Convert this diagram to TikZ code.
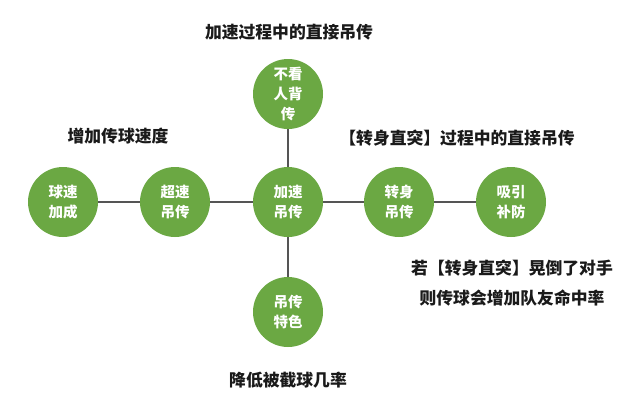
\documentclass[tikz,border=0pt]{standalone}
\usepackage{fontspec}
\setmainfont{Noto Sans CJK SC}
\definecolor{ballgreen}{HTML}{6BA843}
\definecolor{linegray}{HTML}{555555}
\definecolor{txt}{HTML}{1A1A1A}
\tikzset{
  ball/.style={circle, fill=ballgreen, minimum size=70pt, inner sep=0pt, text=white, font=\fontsize{14.5}{20}\selectfont\bfseries, align=center},
  lbl/.style={text=txt, font=\fontsize{16.8}{18}\selectfont\bfseries, inner sep=0pt, align=center},
  link/.style={draw=linegray, line width=1.4pt}
}
\begin{document}
\begin{tikzpicture}[x=1pt,y=-1pt]
\useasboundingbox[fill=white] (0,0) rectangle (640,416);
\node[ball] (top) at (288,94) {不看\\人背\\传};
\node[ball] (c1) at (63,202) {球速\\加成};
\node[ball] (c2) at (175,202) {超速\\吊传};
\node[ball] (c3) at (288,202) {加速\\吊传};
\node[ball] (c4) at (399,202) {转身\\吊传};
\node[ball] (c5) at (511,202) {吸引\\补防};
\node[ball] (bot) at (288,312) {吊传\\特色};
\draw[link] (c1) -- (c2);
\draw[link] (c2) -- (c3);
\draw[link] (c3) -- (c4);
\draw[link] (c4) -- (c5);
\draw[link] (top) -- (c3);
\draw[link] (c3) -- (bot);
\node[lbl] (t1) at (289,32) {加速过程中的直接吊传};
\node[lbl] (t2) at (118,136) {增加传球速度};
\node[lbl] (t3) at (457,138) {【转身直突】过程中的直接吊传};
\node[lbl] (t4) at (512,268) {若【转身直突】晃倒了对手};
\node[lbl] (t5) at (512,298) {则传球会增加队友命中率};
\node[lbl] (t6) at (288,380) {降低被截球几率};
\end{tikzpicture}
\end{document}
